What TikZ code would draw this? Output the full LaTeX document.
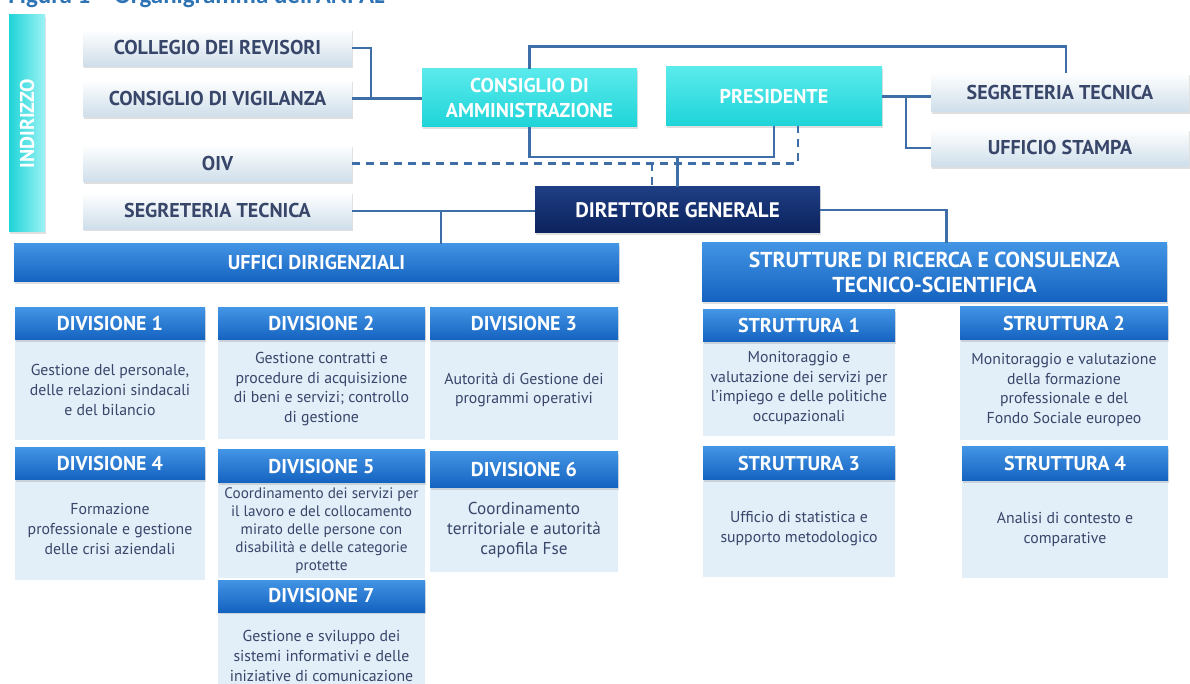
\documentclass[tikz,border=0pt]{standalone}
\usepackage{fontspec}
\setmainfont{PT Sans}
\newfontfamily\capfont{Carlito}
\usetikzlibrary{shadows}

\definecolor{linea}{RGB}{62,110,168}
\definecolor{chiaro}{RGB}{206,222,234}
\definecolor{scrittura}{RGB}{56,70,106}
\definecolor{ciano}{RGB}{30,212,216}
\definecolor{ciano2}{RGB}{90,234,236}
\definecolor{notte}{RGB}{12,34,92}
\definecolor{notte2}{RGB}{30,62,132}
\definecolor{blu}{RGB}{20,98,192}
\definecolor{blu2}{RGB}{66,148,228}
\definecolor{fondo}{RGB}{226,238,248}
\definecolor{titolo}{RGB}{46,116,181}

\tikzset{
  ombra/.style={drop shadow={opacity=0.25, shadow xshift=0.6pt, shadow yshift=-1pt}},
  laterale/.style={ombra, top color=white, bottom color=chiaro, text=scrittura,
    font=\bfseries\fontsize{10}{12}\selectfont, minimum width=134.5pt, minimum height=18.5pt, inner sep=0pt},
  vertice/.style={ombra, top color=ciano2, bottom color=ciano, text=white,
    font=\bfseries\fontsize{10}{12.5}\selectfont, align=center, inner sep=0pt},
  direttore/.style={ombra, top color=notte2, bottom color=notte, text=white,
    font=\bfseries\fontsize{10.5}{12}\selectfont, inner sep=0pt},
  testata/.style={ombra, top color=blu2, bottom color=blu, text=white,
    font=\bfseries\fontsize{10}{12.5}\selectfont, align=center, inner sep=0pt},
  scheda/.style={fill=fondo, text=scrittura, font=\fontsize{7.9}{9.8}\selectfont, align=center, inner sep=0pt},
  filo/.style={draw=linea, line width=1.1pt},
  tratteggio/.style={filo, dash pattern=on 4pt off 3pt}
}

\begin{document}
\begin{tikzpicture}[x=0.5pt, y=-0.5pt]
\useasboundingbox (0,0) rectangle (1190,684);
\clip (0,0) rectangle (1190,684);

\node (tit) [anchor=base west, inner sep=0pt, text=titolo, font=\capfont\bfseries\fontsize{12.5}{14}\selectfont] at (8,4) {Figura 1 – Organigramma dell’ANPAL};

% indirizzo
\node (indirizzo) [ombra, left color=ciano, right color=ciano2!60!white, text=white, font=\bfseries\fontsize{10}{12}\selectfont,
  minimum width=18pt, minimum height=108.5pt, inner sep=0pt] at (27,123.5) {};
\node (indtesto) [rotate=90, text=white, font=\bfseries\fontsize{10}{12}\selectfont] at (indirizzo.center) {INDIRIZZO};

\node (collegio)  [laterale] at (217.5,48)  {COLLEGIO DEI REVISORI};
\node (vigilanza) [laterale] at (217.5,98.5) {CONSIGLIO DI VIGILANZA};
\node (oiv)       [laterale] at (217.5,163.5) {OIV};
\node (segrsx)    [laterale] at (217.5,211) {SEGRETERIA TECNICA};

\node (cda)  [vertice, minimum width=107.5pt, minimum height=29pt] at (529.5,98) {CONSIGLIO DI\\AMMINISTRAZIONE};
\node (pres) [vertice, minimum width=108pt, minimum height=29.5pt] at (774,96.5) {PRESIDENTE};

\node (segrdx) [laterale, minimum width=129pt, minimum height=19.5pt] at (1060,92.5) {SEGRETERIA TECNICA};
\node (stampa) [laterale, minimum width=129pt, minimum height=19pt] at (1060,148) {UFFICIO STAMPA};

\node (dg) [direttore, minimum width=142.5pt, minimum height=23pt] at (677.5,210) {DIRETTORE GENERALE};

\node (uffici)    [testata, minimum width=302.5pt, minimum height=19pt] at (316.5,263) {UFFICI DIRIGENZIALI};
\node (strutture) [testata, font=\bfseries\fontsize{10.8}{12.5}\selectfont, minimum width=232.5pt, minimum height=29.5pt] at (934.5,272.5)
  {STRUTTURE DI RICERCA E CONSULENZA\\TECNICO-SCIENTIFICA};

% divisioni
\node (div1t) [scheda, minimum width=95pt, minimum height=50pt] at (110,390) {Gestione del personale,\\delle relazioni sindacali\\e del bilancio};
\node (div1) [testata, minimum width=95pt, minimum height=16pt] at (110,324) {DIVISIONE 1};
\node (div2t) [scheda, minimum width=103.5pt, minimum height=50pt] at (321.5,389) {Gestione contratti e\\procedure di acquisizione\\di beni e servizi; controllo\\di gestione};
\node (div2) [testata, minimum width=103.5pt, minimum height=16pt] at (321.5,324) {DIVISIONE 2};
\node (div3t) [scheda, minimum width=94pt, minimum height=50pt] at (524,390) {Autorità di Gestione dei\\programmi operativi};
\node (div3) [testata, minimum width=94pt, minimum height=16pt] at (524,324) {DIVISIONE 3};

\node (div4t) [scheda, minimum width=95pt, minimum height=51pt] at (110,529) {Formazione\\professionale e gestione\\delle crisi aziendali};
\node (div4) [testata, minimum width=95pt, minimum height=16pt] at (110,464) {DIVISIONE 4};
\node (div5t) [scheda, font=\fontsize{7.6}{9}\selectfont, minimum width=103.5pt, minimum height=47.5pt] at (321.5,530.5)
  {Coordinamento dei servizi per\\il lavoro e del collocamento\\mirato delle persone con\\disabilità e delle categorie\\protette};
\node (div5) [testata, minimum width=103.5pt, minimum height=16.5pt] at (321.5,466.5) {DIVISIONE 5};
\node (div6t) [scheda, font=\fontsize{8.6}{10}\selectfont, minimum width=94pt, minimum height=42pt] at (524,530) {Coordinamento\\territoriale e autorità\\capofila Fse};
\node (div6) [testata, minimum width=94pt, minimum height=18pt] at (524,470) {DIVISIONE 6};
\node (div7t) [scheda, minimum width=103.5pt, minimum height=44pt] at (321.5,656) {Gestione e sviluppo dei\\sistemi informativi e delle\\iniziative di comunicazione};
\node (div7) [testata, minimum width=103.5pt, minimum height=16pt] at (321.5,596) {DIVISIONE 7};

% strutture
\node (str1t) [scheda, minimum width=96pt, minimum height=48pt] at (799,388) {Monitoraggio e\\valutazione dei servizi per\\l’impiego e delle politiche\\occupazionali};
\node (str1) [testata, minimum width=96pt, minimum height=16pt] at (799,326) {STRUTTURA 1};
\node (str2t) [scheda, minimum width=104pt, minimum height=50pt] at (1064,390) {Monitoraggio e valutazione\\della formazione\\professionale e del\\Fondo Sociale europeo};
\node (str2) [testata, minimum width=104pt, minimum height=16.5pt] at (1064,323.5) {STRUTTURA 2};
\node (str3t) [scheda, minimum width=96pt, minimum height=48.5pt] at (799,528.5) {Ufficio di statistica e\\supporto metodologico};
\node (str3) [testata, minimum width=96pt, minimum height=16.5pt] at (799,463.5) {STRUTTURA 3};
\node (str4t) [scheda, minimum width=103pt, minimum height=48.5pt] at (1065,529.5) {Analisi di contesto e\\comparative};
\node (str4) [testata, minimum width=103pt, minimum height=17pt] at (1065,464) {STRUTTURA 4};

% collegamenti
\coordinate (g1) at (371,98.5);
\draw[filo] (collegio.east) -| (g1);
\draw[filo] (vigilanza.east) -- (vigilanza.east -| cda.west);
\draw[filo] (cda.north) -- ++(0,-22) -| ([xshift=3pt]segrdx.north);
\draw[filo] (cda.south) -- ++(0,30) coordinate (g2) -| (pres.south);
\draw[filo] (dg.north) -- (dg.north |- g2);
\draw[filo] (pres.east) -- (pres.east -| segrdx.west);
\coordinate (g3) at (906,96.5);
\draw[filo] (g3) |- (stampa.west);
\coordinate (t1) at (798,163.5);
\draw[tratteggio] (oiv.east) -- (t1) -- (t1 |- pres.south);
\coordinate (t2) at (652,163.5);
\draw[tratteggio] (t2) -- (t2 |- dg.north);
\draw[filo] (segrsx.east) -- (segrsx.east -| dg.west);
\coordinate (g4) at (441,211);
\draw[filo] (g4) -- (g4 |- uffici.north);
\draw[filo] (dg.east) -| ([xshift=6pt]strutture.north);

\end{tikzpicture}
\end{document}
